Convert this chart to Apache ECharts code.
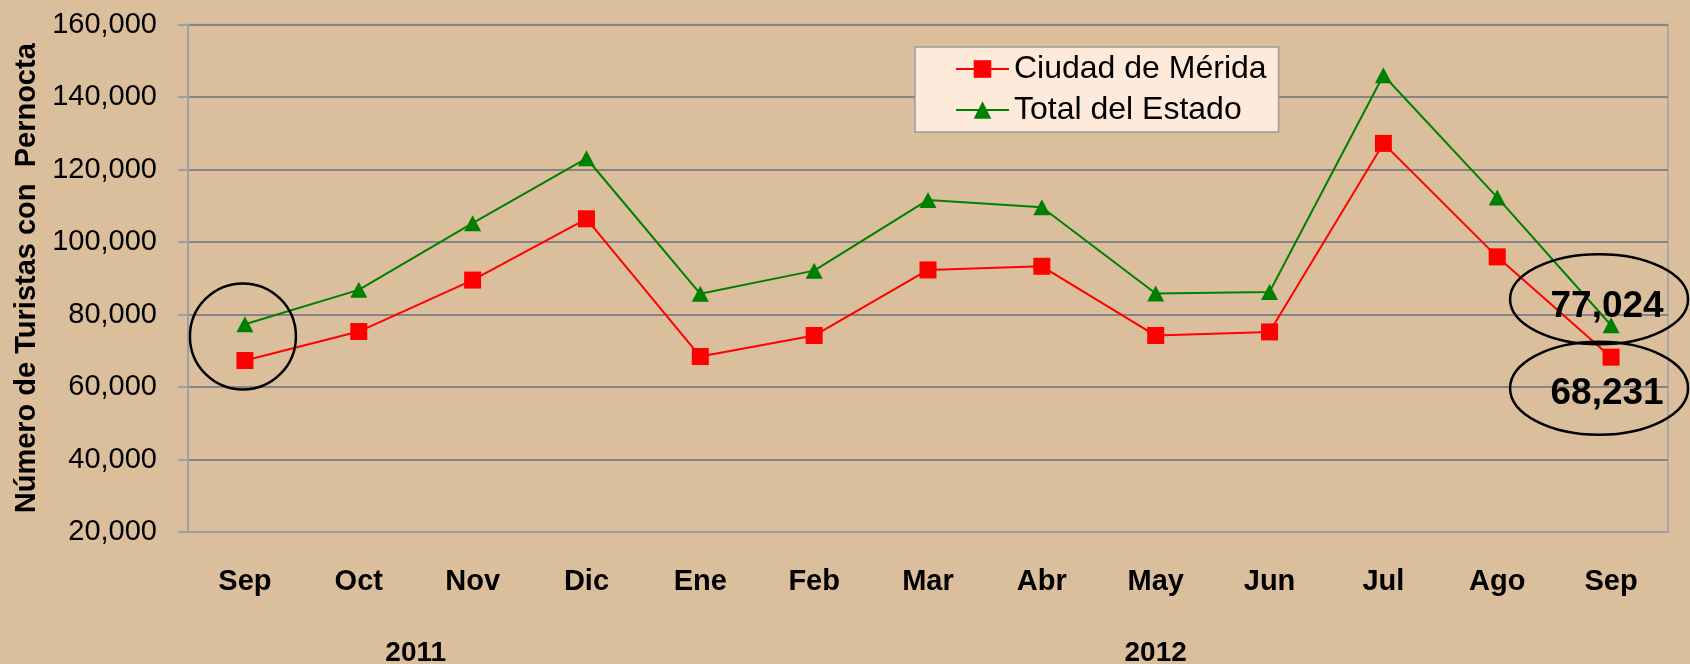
<!DOCTYPE html>
<html>
<head>
<meta charset="utf-8">
<script src="https://cdn.jsdelivr.net/npm/echarts@6/dist/echarts.min.js"></script>
<style>
  html, body { margin: 0; padding: 0; background: #dbbf9d; }
  #chart { width: 1690px; height: 664px; }
</style>
</head>
<body>
<div id="chart"></div>
<script>
// months Sep 2011 .. Sep 2012
const months = ['Sep', 'Oct', 'Nov', 'Dic', 'Ene', 'Feb', 'Mar', 'Abr', 'May', 'Jun', 'Jul', 'Ago', 'Sep'];
const merida = [67300, 75300, 89500, 106400, 68400, 74200, 92300, 93300, 74200, 75200, 127200, 95900, 68231];
const estado = [77300, 86800, 105200, 123100, 85700, 92100, 111600, 109600, 85800, 86200, 146000, 112300, 77024];
const years = [
  { label: '2011', from: 0, to: 3 },
  { label: '2012', from: 4, to: 12 }
];
const yTicks = { min: 20000, max: 160000, step: 20000 };

const font = 'Liberation Sans, Arial, sans-serif';
const fmt = v => v.toLocaleString('en-US');
const last = months.length - 1;

function withEndLabel(values, offset) {
  return values.map((v, i) => i !== last ? v : {
    value: v,
    label: {
      show: true, position: 'inside', offset: offset,
      formatter: p => fmt(p.value),
      fontFamily: font, fontWeight: 'bold', fontSize: 37, color: '#000'
    }
  });
}

const chart = echarts.init(document.getElementById('chart'));
chart.setOption({
  backgroundColor: '#dbbf9d',
  animation: false,
  grid: { left: 188, right: 22, top: 24.5, bottom: 132, show: true, borderColor: '#9aa0a6', borderWidth: 1.5 },
  legend: {
    orient: 'vertical', left: 915, top: 47,
    padding: [6, 12, 6, 40], itemGap: 9,
    itemWidth: 53, itemHeight: 22,
    backgroundColor: '#fdeadb', borderColor: '#9a9a9a', borderWidth: 1.5, borderRadius: 0,
    textStyle: { fontFamily: font, fontSize: 32, color: '#000' },
    data: ['Ciudad de Mérida', 'Total del Estado']
  },
  xAxis: {
    type: 'category', data: months,
    axisLine: { lineStyle: { color: '#9aa0a6', width: 2 } },
    axisTick: { show: false },
    axisLabel: { fontFamily: font, fontWeight: 'bold', fontSize: 29, color: '#000', margin: 35 }
  },
  yAxis: {
    type: 'value', min: yTicks.min, max: yTicks.max, interval: yTicks.step,
    name: 'Número de Turistas con  Pernocta', nameLocation: 'middle', nameGap: 145, nameRotate: 90,
    nameTextStyle: { fontFamily: font, fontWeight: 'bold', fontSize: 29, color: '#000' },
    axisLine: { show: true, lineStyle: { color: '#9aa0a6', width: 2 } },
    axisTick: { show: true, length: 10, lineStyle: { color: '#9aa0a6', width: 2 } },
    splitLine: { lineStyle: { color: '#858585', width: 2 } },
    axisLabel: { fontFamily: font, fontSize: 29, color: '#000', margin: 31, formatter: fmt }
  },
  series: [
    {
      name: 'Ciudad de Mérida', type: 'line', data: withEndLabel(merida, [-4, 37]),
      symbol: 'rect', symbolSize: 17,
      itemStyle: { color: '#ff0000' }, lineStyle: { color: '#ff0000', width: 2 }, z: 3
    },
    {
      name: 'Total del Estado', type: 'line', data: withEndLabel(estado, [-4, -18]),
      symbol: 'triangle', symbolSize: [17, 16],
      itemStyle: { color: '#008000' }, lineStyle: { color: '#008000', width: 2 }, z: 4
    }
  ]
});

// annotations: year captions under the month groups, and the hand-drawn ellipses
const px = (i, v) => chart.convertToPixel({ gridIndex: 0 }, [i, v]);
const graphic = years.map(y => {
  const x = (px(y.from, yTicks.min)[0] + px(y.to, yTicks.min)[0]) / 2;
  return {
    type: 'text', x: x, y: 653,
    style: { text: y.label, font: 'bold 28px ' + font, fill: '#000', align: 'center', verticalAlign: 'middle' }
  };
});
const ring = (cx, cy, rx, ry) => ({
  type: 'ellipse', z: 10, silent: true,
  shape: { cx: cx, cy: cy, rx: rx, ry: ry },
  style: { fill: 'none', stroke: '#000', lineWidth: 2.5 }
});
const first = px(0, (merida[0] + estado[0]) / 2);
graphic.push(ring(first[0] - 2, first[1] - 6, 53, 53));
const endTop = px(last, estado[last]);
graphic.push(ring(endTop[0] - 12, endTop[1] - 26, 89, 45));
const endBot = px(last, merida[last]);
graphic.push(ring(endBot[0] - 12, endBot[1] + 31, 89, 46.5));
chart.setOption({ graphic: graphic });
</script>
</body>
</html>
